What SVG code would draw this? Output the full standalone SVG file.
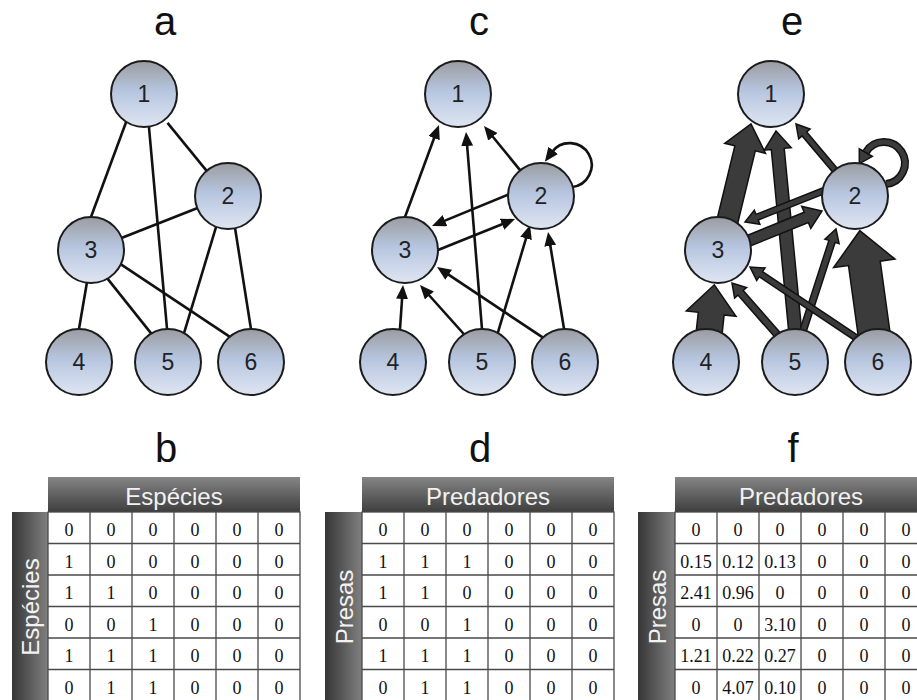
<svg xmlns="http://www.w3.org/2000/svg" width="917" height="700" viewBox="0 0 917 700">
  <defs>
    <linearGradient id="ng" x1="0" y1="0" x2="0" y2="1">
      <stop offset="0" stop-color="#9b9ca0"/>
      <stop offset="0.45" stop-color="#b6c5df"/>
      <stop offset="1" stop-color="#dfe6f2"/>
    </linearGradient>
    <linearGradient id="hg" x1="0" y1="0" x2="0" y2="1">
      <stop offset="0" stop-color="#858585"/>
      <stop offset="1" stop-color="#3e3e3e"/>
    </linearGradient>
    <linearGradient id="sg" x1="0" y1="0" x2="1" y2="0">
      <stop offset="0" stop-color="#363636"/>
      <stop offset="1" stop-color="#808080"/>
    </linearGradient>
    <marker id="ah" markerUnits="userSpaceOnUse" viewBox="0 0 14 12" markerWidth="14" markerHeight="12" refX="2" refY="6" orient="auto">
      <path d="M0,0 L14,6 L0,12 z" fill="#111"/>
    </marker>
  </defs>
  <style>
    .node circle { fill: url(#ng); stroke: #1c1c1c; stroke-width: 2; }
    .node text { font-family: "Liberation Sans", Arial, sans-serif; font-size: 23px; fill: #222; text-anchor: middle; }
    .edge { stroke: #111; stroke-width: 2.6; fill: none; }
    .arr { stroke: #111; stroke-width: 2.6; fill: none; marker-end: url(#ah); }
    .blk { fill: #3b3b3b; stroke: #111; stroke-width: 1.5; stroke-linejoin: miter; }
    .title { font-family: "Liberation Sans", Arial, sans-serif; font-size: 40px; fill: #111; text-anchor: middle; }
    .hdr { fill: url(#hg); }
    .side { fill: url(#sg); }
    .htxt { font-family: "Liberation Sans", Arial, sans-serif; font-size: 24px; fill: #f2f2f2; text-anchor: middle; }
    .grid { fill: #fff; stroke: #4a4a4a; stroke-width: 1.3; }
    .gl { stroke: #4a4a4a; stroke-width: 1.3; }
    .num { font-family: "Liberation Serif", "Times New Roman", serif; font-size: 18px; fill: #111; text-anchor: middle; }
  </style>

  <!-- panel titles -->
  <g id="titles">
    <text class="title" x="165" y="35">a</text>
    <text class="title" x="479" y="35">c</text>
    <text class="title" x="792" y="35">e</text>
    <text class="title" x="166" y="462">b</text>
    <text class="title" x="480" y="462">d</text>
    <text class="title" x="793" y="462">f</text>
  </g>

  <!-- panel a: undirected links -->
  <g id="connectors-a">
    <path class="edge" d="M89.6,220.8 L126.4,121.2"/>
    <path class="edge" d="M167.4,333 L148.6,123"/>
    <path class="edge" d="M208.5,173.1 L167.5,122.9"/>
    <path class="edge" d="M91,250 L228,196"/>
    <path class="edge" d="M183.8,333.8 L217.2,223.2"/>
    <path class="edge" d="M251.6,333 L234.4,224"/>
    <path class="edge" d="M78.3,333 L87.7,278"/>
    <path class="edge" d="M152.5,335.1 L104.5,274.9"/>
    <path class="edge" d="M233.3,339.2 L118.7,262.8"/>
  </g>

  <!-- panel c: directed links, prey to predator -->
  <g id="connectors-c">
    <path class="arr" d="M403.6,220.8 L434.8,136.3"/>
    <path class="arr" d="M482.3,333 L467,144"/>
    <path class="arr" d="M522.5,173.1 L491.6,135.3"/>
    <path class="arr" d="M510.7,193.5 L443.1,221.4"/>
    <path class="arr" d="M434.3,251.5 L503.9,223.5"/>
    <path class="arr" d="M399.7,333 L402.2,297"/>
    <path class="arr" d="M464.7,335 L428,294"/>
    <path class="arr" d="M545.3,339.2 L447,273.7"/>
    <path class="arr" d="M496.9,335.8 L526.6,236.5"/>
    <path class="arr" d="M564.7,333 L550,243.8"/>
    <path class="arr" d="M572,187 A22,22 0 1 0 552,152"/>
  </g>

  <!-- panel e: weighted links, width follows interaction strength -->
  <g id="connectors-e">
    <polygon class="blk" points="891.1,340 880.2,261.2 895,259.1 859.8,230.7 833.6,267.6 848.5,265.6 859.4,344.4"/>
    <polygon class="blk" points="721.1,343.5 724.1,315 736,316.3 714.3,284.8 686.3,311 698.3,312.3 695.2,340.7"/>
    <polygon class="blk" points="735.2,233.5 755.3,150.8 765.5,153.3 751,124 724.7,143.3 734.9,145.8 714.8,228.5"/>
    <polygon class="blk" points="802.4,338.3 784.2,148.3 791.2,147.6 776,131 764.3,150.2 771.3,149.5 789.5,339.6"/>
    <polygon class="blk" points="740.8,249.9 808.3,222.5 810.8,228.5 822,211 801.7,206.3 804.2,212.3 736.7,239.7"/>
    <polygon class="blk" points="784.2,337.2 743.2,290.5 746.6,287.5 732,283 734.6,298.1 737.9,295.1 779,341.8"/>
    <polygon class="blk" points="803,341.5 835.1,242.4 839.1,243.7 836,229 824.9,239.1 828.9,240.4 796.8,339.5"/>
    <polygon class="blk" points="842.7,174.7 806.7,132 810.1,129.1 796,124 798.7,138.8 802.1,135.9 838.2,178.6"/>
    <polygon class="blk" points="831.2,184.5 756,214.4 754.3,210.2 745,222 759.9,224.2 758.2,220 833.4,190.1"/>
    <polygon class="blk" points="865,340.1 762.5,271.7 765,268 750,267 756.7,280.5 759.2,276.7 861.7,345.1"/>
    <path d="M886,184 A21,21 0 1 0 865.8,152.5" fill="none" stroke="#111" stroke-width="8"/>
    <path d="M886,184 A21,21 0 1 0 865.8,152.5" fill="none" stroke="#3b3b3b" stroke-width="5"/>
    <polygon class="blk" points="872.3,156.3 859.3,163.8 859.3,148.8"/>
  </g>

  <!-- nodes, panel a -->
  <g id="a-n1" class="node"><circle cx="144" cy="94" r="33"/><text x="144" y="102">1</text></g>
  <g id="a-n2" class="node"><circle cx="228" cy="196" r="33"/><text x="228" y="204">2</text></g>
  <g id="a-n3" class="node"><circle cx="91" cy="250" r="33"/><text x="91" y="258">3</text></g>
  <g id="a-n4" class="node"><circle cx="79" cy="362" r="33"/><text x="79" y="370">4</text></g>
  <g id="a-n5" class="node"><circle cx="168" cy="362" r="33"/><text x="168" y="370">5</text></g>
  <g id="a-n6" class="node"><circle cx="251" cy="362" r="33"/><text x="251" y="370">6</text></g>

  <!-- nodes, panel c -->
  <g id="c-n1" class="node"><circle cx="458" cy="94" r="33"/><text x="458" y="102">1</text></g>
  <g id="c-n2" class="node"><circle cx="541" cy="196" r="33"/><text x="541" y="204">2</text></g>
  <g id="c-n3" class="node"><circle cx="405" cy="250" r="33"/><text x="405" y="258">3</text></g>
  <g id="c-n4" class="node"><circle cx="393" cy="362" r="33"/><text x="393" y="370">4</text></g>
  <g id="c-n5" class="node"><circle cx="482" cy="362" r="33"/><text x="482" y="370">5</text></g>
  <g id="c-n6" class="node"><circle cx="565" cy="362" r="33"/><text x="565" y="370">6</text></g>

  <!-- nodes, panel e -->
  <g id="e-n1" class="node"><circle cx="771" cy="94" r="33"/><text x="771" y="102">1</text></g>
  <g id="e-n2" class="node"><circle cx="855" cy="196" r="33"/><text x="855" y="204">2</text></g>
  <g id="e-n3" class="node"><circle cx="718" cy="250" r="33"/><text x="718" y="258">3</text></g>
  <g id="e-n4" class="node"><circle cx="706" cy="362" r="33"/><text x="706" y="370">4</text></g>
  <g id="e-n5" class="node"><circle cx="795" cy="362" r="33"/><text x="795" y="370">5</text></g>
  <g id="e-n6" class="node"><circle cx="878" cy="362" r="33"/><text x="878" y="370">6</text></g>

  <!-- matrix b -->
  <g id="table-b">
    <rect class="hdr" x="48" y="477" width="252" height="35"/>
    <rect class="side" x="12" y="512" width="36" height="190"/>
    <text class="htxt" x="174" y="505">Espécies</text>
    <text class="htxt" transform="translate(39,607) rotate(-90)">Espécies</text>
    <rect class="grid" x="48" y="512" width="252" height="190"/>
    <path class="gl" d="M90,512V702M132,512V702M174,512V702M216,512V702M258,512V702M48,543.5H300M48,575H300M48,606.5H300M48,638H300M48,669.5H300"/>
    <g class="num">
      <text x="69" y="536">0</text><text x="111" y="536">0</text><text x="153" y="536">0</text><text x="195" y="536">0</text><text x="237" y="536">0</text><text x="279" y="536">0</text>
      <text x="69" y="567.5">1</text><text x="111" y="567.5">0</text><text x="153" y="567.5">0</text><text x="195" y="567.5">0</text><text x="237" y="567.5">0</text><text x="279" y="567.5">0</text>
      <text x="69" y="599">1</text><text x="111" y="599">1</text><text x="153" y="599">0</text><text x="195" y="599">0</text><text x="237" y="599">0</text><text x="279" y="599">0</text>
      <text x="69" y="630.5">0</text><text x="111" y="630.5">0</text><text x="153" y="630.5">1</text><text x="195" y="630.5">0</text><text x="237" y="630.5">0</text><text x="279" y="630.5">0</text>
      <text x="69" y="662">1</text><text x="111" y="662">1</text><text x="153" y="662">1</text><text x="195" y="662">0</text><text x="237" y="662">0</text><text x="279" y="662">0</text>
      <text x="69" y="693.5">0</text><text x="111" y="693.5">1</text><text x="153" y="693.5">1</text><text x="195" y="693.5">0</text><text x="237" y="693.5">0</text><text x="279" y="693.5">0</text>
    </g>
  </g>

  <!-- matrix d -->
  <g id="table-d">
    <rect class="hdr" x="362" y="477" width="252" height="35"/>
    <rect class="side" x="325" y="512" width="37" height="190"/>
    <text class="htxt" x="488" y="505">Predadores</text>
    <text class="htxt" transform="translate(353,607) rotate(-90)">Presas</text>
    <rect class="grid" x="362" y="512" width="252" height="190"/>
    <path class="gl" d="M404,512V702M446,512V702M488,512V702M530,512V702M572,512V702M362,543.5H614M362,575H614M362,606.5H614M362,638H614M362,669.5H614"/>
    <g class="num">
      <text x="383" y="536">0</text><text x="425" y="536">0</text><text x="467" y="536">0</text><text x="509" y="536">0</text><text x="551" y="536">0</text><text x="593" y="536">0</text>
      <text x="383" y="567.5">1</text><text x="425" y="567.5">1</text><text x="467" y="567.5">1</text><text x="509" y="567.5">0</text><text x="551" y="567.5">0</text><text x="593" y="567.5">0</text>
      <text x="383" y="599">1</text><text x="425" y="599">1</text><text x="467" y="599">0</text><text x="509" y="599">0</text><text x="551" y="599">0</text><text x="593" y="599">0</text>
      <text x="383" y="630.5">0</text><text x="425" y="630.5">0</text><text x="467" y="630.5">1</text><text x="509" y="630.5">0</text><text x="551" y="630.5">0</text><text x="593" y="630.5">0</text>
      <text x="383" y="662">1</text><text x="425" y="662">1</text><text x="467" y="662">1</text><text x="509" y="662">0</text><text x="551" y="662">0</text><text x="593" y="662">0</text>
      <text x="383" y="693.5">0</text><text x="425" y="693.5">1</text><text x="467" y="693.5">1</text><text x="509" y="693.5">0</text><text x="551" y="693.5">0</text><text x="593" y="693.5">0</text>
    </g>
  </g>

  <!-- matrix f -->
  <g id="table-f">
    <rect class="hdr" x="675" y="477" width="252" height="35"/>
    <rect class="side" x="638" y="512" width="37" height="190"/>
    <text class="htxt" x="801" y="505">Predadores</text>
    <text class="htxt" transform="translate(666,607) rotate(-90)">Presas</text>
    <rect class="grid" x="675" y="512" width="252" height="190"/>
    <path class="gl" d="M717,512V702M759,512V702M801,512V702M843,512V702M885,512V702M675,543.5H927M675,575H927M675,606.5H927M675,638H927M675,669.5H927"/>
    <g class="num">
      <text x="696" y="536">0</text><text x="738" y="536">0</text><text x="780" y="536">0</text><text x="822" y="536">0</text><text x="864" y="536">0</text><text x="906" y="536">0</text>
      <text x="696" y="567.5">0.15</text><text x="738" y="567.5">0.12</text><text x="780" y="567.5">0.13</text><text x="822" y="567.5">0</text><text x="864" y="567.5">0</text><text x="906" y="567.5">0</text>
      <text x="696" y="599">2.41</text><text x="738" y="599">0.96</text><text x="780" y="599">0</text><text x="822" y="599">0</text><text x="864" y="599">0</text><text x="906" y="599">0</text>
      <text x="696" y="630.5">0</text><text x="738" y="630.5">0</text><text x="780" y="630.5">3.10</text><text x="822" y="630.5">0</text><text x="864" y="630.5">0</text><text x="906" y="630.5">0</text>
      <text x="696" y="662">1.21</text><text x="738" y="662">0.22</text><text x="780" y="662">0.27</text><text x="822" y="662">0</text><text x="864" y="662">0</text><text x="906" y="662">0</text>
      <text x="696" y="693.5">0</text><text x="738" y="693.5">4.07</text><text x="780" y="693.5">0.10</text><text x="822" y="693.5">0</text><text x="864" y="693.5">0</text><text x="906" y="693.5">0</text>
    </g>
  </g>
</svg>
